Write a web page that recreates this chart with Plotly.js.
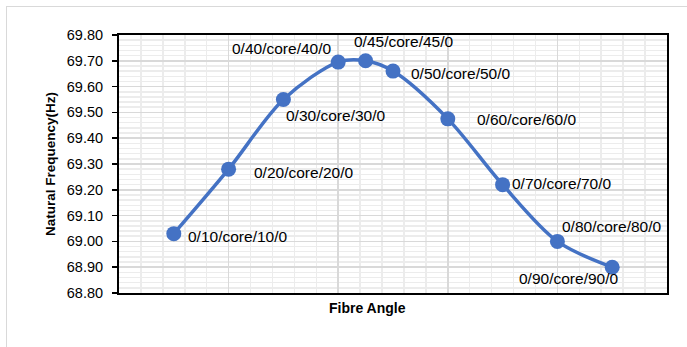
<!DOCTYPE html>
<html><head><meta charset="utf-8">
<script src="https://cdn.plot.ly/plotly-3.0.1.min.js"></script>
<style>
html,body{margin:0;padding:0;background:#fff;}
#wrap{position:relative;width:687px;height:347px;overflow:hidden;}
#chart{position:absolute;left:0;top:0;width:687px;height:347px;}
#frame{position:absolute;left:6px;top:6px;width:700px;height:400px;border:1.5px solid #d9d9d9;pointer-events:none;}
</style></head>
<body><div id="wrap"><div id="chart"></div><div id="frame"></div></div>
<script>
const fibreAngles = [10, 20, 30, 40, 45, 50, 60, 70, 80, 90];
const frequencies = [69.03, 69.28, 69.55, 69.695, 69.70, 69.66, 69.475, 69.22, 69.00, 68.90];
const layupLabels = ["0/10/core/10/0","0/20/core/20/0","0/30/core/30/0","0/40/core/40/0","0/45/core/45/0",
                     "0/50/core/50/0","0/60/core/60/0","0/70/core/70/0","0/80/core/80/0","0/90/core/90/0"];
const yTickVals = [68.8,68.9,69.0,69.1,69.2,69.3,69.4,69.5,69.6,69.7,69.8];

// label placement (style only)
const labelStyle = [
  {xa:'left', ya:'middle', dx:12, dy:-3},
  {xa:'left', ya:'middle', dx:23, dy:-3},
  {xa:'left', ya:'top', dx:1, dy:-5},
  {xa:'right', ya:'bottom', dx:-5, dy:3},
  {xa:'left', ya:'bottom', dx:-14, dy:9},
  {xa:'left', ya:'middle', dx:16, dy:-2},
  {xa:'left', ya:'middle', dx:27, dy:-1},
  {xa:'left', ya:'middle', dx:7, dy:1},
  {xa:'left', ya:'bottom', dx:3, dy:4},
  {xa:'right', ya:'top', dx:8, dy:-1}
];

const annotations = fibreAngles.map((a,i)=>({
  x:a, y:frequencies[i], xref:'x', yref:'y', text:layupLabels[i], showarrow:false,
  xanchor:labelStyle[i].xa, yanchor:labelStyle[i].ya,
  xshift:labelStyle[i].dx, yshift:labelStyle[i].dy,
  font:{family:'Liberation Sans, Arial, sans-serif', size:15.5, color:'#000'}
}));
annotations.push({
  xref:'paper', yref:'paper', x:-0.126, y:0.5, text:'<b>Natural Frequency(Hz)</b>', showarrow:false,
  textangle:-90, xanchor:'center', yanchor:'middle',
  font:{family:'Liberation Sans, Arial, sans-serif', size:13.5, color:'#000'}
});
annotations.push({
  xref:'paper', yref:'paper', x:0.453, y:0, yshift:-15, text:'<b>Fibre Angle</b>', showarrow:false,
  xanchor:'center', yanchor:'middle',
  font:{family:'Liberation Sans, Arial, sans-serif', size:14, color:'#000'}
});

const trace = {
  x: fibreAngles, y: frequencies, type:'scatter', mode:'lines+markers',
  line:{color:'#4472C4', width:3.5, shape:'spline', smoothing:0.9},
  marker:{color:'#4472C4', size:15},
  hoverinfo:'skip'
};

const layout = {
  width:687, height:347,
  margin:{l:119, r:20, t:35, b:54},
  paper_bgcolor:'#fff', plot_bgcolor:'#fff',
  showlegend:false,
  xaxis:{
    range:[0,100], dtick:20, tick0:0, showticklabels:false, ticks:'',
    showgrid:true, gridcolor:'#d9d9d9', gridwidth:1.5,
    minor:{dtick:4, showgrid:true, gridcolor:'#ececec', gridwidth:1.5},
    showline:true, linecolor:'#000', linewidth:2, mirror:true, zeroline:false, fixedrange:true
  },
  yaxis:{
    range:[68.8,69.8], tickvals:yTickVals, ticktext:yTickVals.map(v=>v.toFixed(2)),
    ticks:'outside', ticklen:5, tickcolor:'#000', tickwidth:1.5,
    tickfont:{family:'Liberation Sans, Arial, sans-serif', size:14.5, color:'#000'},
    ticklabelstandoff:6,
    showgrid:true, gridcolor:'#d9d9d9', gridwidth:1.5,
    minor:{dtick:0.02, showgrid:true, gridcolor:'#ececec', gridwidth:1.5},
    showline:true, linecolor:'#000', linewidth:2, mirror:true, zeroline:false, fixedrange:true
  },
  annotations: annotations
};

Plotly.newPlot('chart', [trace], layout, {displayModeBar:false, staticPlot:true});
</script></body></html>
